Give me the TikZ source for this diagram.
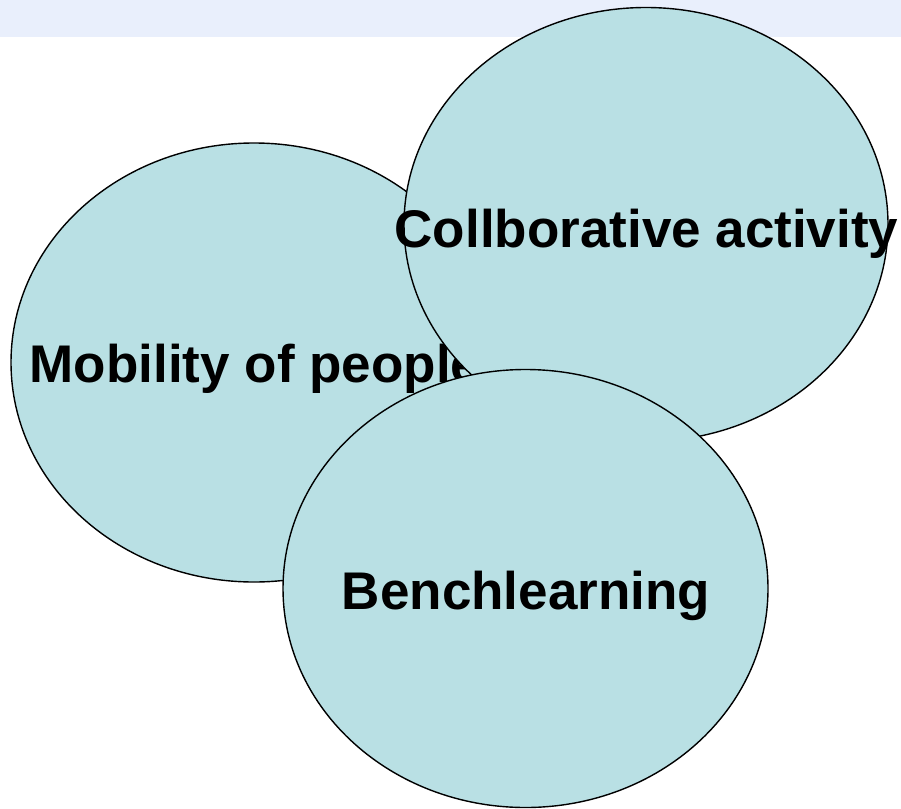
\documentclass[tikz,border=0pt]{standalone}
\usepackage{fontspec}
\setmainfont{Liberation Sans}
\usetikzlibrary{shapes.geometric}
\definecolor{fillc}{RGB}{185,224,228}
\definecolor{bandc}{RGB}{233,239,252}
\begin{document}
\begin{tikzpicture}[x=1pt,y=-1pt,
  bubble/.style={ellipse, draw=black, line width=1.4pt, fill=fillc, inner sep=0pt},
  lab/.style={font=\bfseries\fontsize{53}{60}\selectfont, inner sep=0pt, anchor=base}]
\useasboundingbox (0,0) rectangle (901,808);
\fill[bandc] (0,0) rectangle (901,37);
\node[bubble, minimum width=486pt, minimum height=439pt] (mob) at (254,362.5) {};
\node[lab] (mobt) at (255,382) {Mobility of people};
\node[bubble, minimum width=484pt, minimum height=434pt] (col) at (646,224.5) {};
\node[lab] (colt) at (646.5,247.5) {Collborative activity};
\node[bubble, minimum width=485pt, minimum height=438pt] (ben) at (525.5,588.5) {};
\node[lab] (bent) at (526,609) {Benchlearning};
\end{tikzpicture}
\end{document}
